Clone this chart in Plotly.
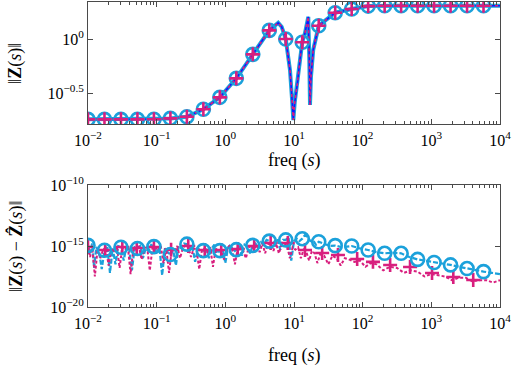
import plotly.graph_objects as go

# ---------------- data (log10 exponents) ----------------
# top panel: ||Z(s)|| line
top_line_fexp = [-2.0, -1.5, -1.0, -0.8, -0.56, -0.32, -0.08, 0.16, 0.40, 0.64, 0.77, 0.82,
                 0.88, 0.942, 0.975, 0.99, 1.01, 1.05, 1.087, 1.12, 1.16, 1.208, 1.223,
                 1.233, 1.247, 1.28, 1.36, 1.6, 1.84, 2.08, 2.5, 4.0]
top_line_zexp = [-0.744, -0.744, -0.743, -0.735, -0.72, -0.65, -0.54, -0.364, -0.142, 0.08,
                 0.15, 0.114, 0.0, -0.29, -0.59, -0.75, -0.59, -0.41, -0.19, -0.03, 0.055,
                 0.206, -0.19, -0.61, -0.35, -0.10, 0.123, 0.244, 0.278, 0.305, 0.308, 0.308]

# marker sample frequencies (shared)
mark_fexp = [-2.00, -1.76, -1.52, -1.28, -1.04, -0.80, -0.56, -0.32, -0.08, 0.16, 0.40,
             0.64, 0.88, 1.12, 1.36, 1.60, 1.84, 2.08, 2.32, 2.56, 2.80, 3.04, 3.28, 3.52, 3.76]
top_mark_zexp = [-0.744, -0.744, -0.744, -0.744, -0.743, -0.735, -0.72, -0.65, -0.54, -0.364,
                 -0.142, 0.08, 0.0, -0.03, 0.123, 0.244, 0.278, 0.305, 0.308, 0.308, 0.308,
                 0.308, 0.308, 0.308, 0.308]

# bottom panel: error, cyan series
err_c_fexp = [-2.00, -1.97, -1.94, -1.91, -1.88, -1.84, -1.80, -1.76, -1.72, -1.68, -1.64,
              -1.60, -1.56, -1.52, -1.48, -1.44, -1.40, -1.36, -1.32, -1.28, -1.24, -1.20,
              -1.16, -1.12, -1.08, -1.04, -1.00, -0.96, -0.92, -0.88, -0.84, -0.80, -0.76,
              -0.72, -0.68, -0.64, -0.60, -0.56, -0.52, -0.48, -0.44, -0.40, -0.36, -0.32,
              -0.28, -0.24, -0.20, -0.16, -0.12, -0.08, -0.04, 0.00, 0.04, 0.08, 0.12, 0.16,
              0.20, 0.24, 0.28, 0.32, 0.36, 0.40, 0.44, 0.48, 0.52, 0.56, 0.60, 0.64, 0.68,
              0.72, 0.76, 0.80, 0.84, 0.88, 0.92, 0.96, 1.00, 1.04, 1.08, 1.12, 1.16, 1.20,
              1.24, 1.28, 1.32, 1.36, 1.44, 1.52, 1.60, 1.70, 1.84, 1.96, 2.08, 2.20, 2.32,
              2.44, 2.56, 2.68, 2.80, 2.92, 3.04, 3.16, 3.28, 3.40, 3.52, 3.64, 3.76, 3.88, 4.00]
err_c_eexp = [-14.95, -15.6, -14.8, -16.8, -15.1, -15.4, -16.9, -15.35, -15.0, -17.2, -15.2,
              -16.5, -15.0, -15.1, -16.2, -15.0, -15.3, -17.0, -15.1, -15.2, -15.0, -16.0,
              -15.2, -15.4, -14.9, -15.05, -15.6, -15.1, -17.4, -15.2, -15.5, -15.7, -15.3,
              -16.6, -15.0, -15.2, -14.8, -14.85, -15.3, -15.0, -16.3, -15.2, -15.4, -15.38,
              -15.1, -16.0, -15.2, -14.9, -15.6, -15.38, -15.2, -16.4, -15.1, -14.9, -15.5, -15.3,
              -15.0, -15.8, -14.9, -15.1, -15.6, -14.95, -14.8, -15.2, -14.7, -14.9, -14.5, -14.6,
              -15.0, -14.6, -14.4, -15.3, -14.5, -14.5, -14.3, -16.2, -14.6, -14.4, -14.6, -14.4,
              -14.1, -14.3, -14.6, -14.55, -14.9, -14.65, -14.8, -15.0, -14.97, -15.1, -15.0,
              -15.2, -15.33, -15.5, -15.6, -15.55, -15.6, -15.9, -16.1, -16.2, -16.35, -16.4,
              -16.55, -16.7, -16.85, -16.95, -17.1, -17.2, -17.3]
err_c_mark_eexp = [-14.95, -15.35, -15.1, -15.2, -15.05, -15.7, -14.85, -15.38, -15.38, -15.3,
                   -14.95, -14.6, -14.5, -14.4, -14.65, -14.97, -15.0, -15.33, -15.6, -15.6,
                   -16.1, -16.35, -16.55, -16.85, -17.1]

# bottom panel: error, magenta series
err_m_fexp = [-2.00, -1.97, -1.94, -1.90, -1.86, -1.82, -1.78, -1.74, -1.70, -1.66, -1.62,
              -1.58, -1.54, -1.50, -1.46, -1.42, -1.38, -1.34, -1.30, -1.26, -1.22, -1.18,
              -1.14, -1.10, -1.06, -1.02, -0.98, -0.94, -0.90, -0.86, -0.82, -0.78, -0.74,
              -0.70, -0.66, -0.62, -0.58, -0.54, -0.50, -0.46, -0.42, -0.38, -0.34, -0.30,
              -0.26, -0.22, -0.18, -0.14, -0.10, -0.06, -0.02, 0.02, 0.06, 0.10, 0.14, 0.18,
              0.22, 0.26, 0.30, 0.34, 0.38, 0.42, 0.46, 0.50, 0.54, 0.58, 0.62, 0.66, 0.70,
              0.74, 0.78, 0.82, 0.86, 0.90, 0.94, 0.98, 1.02, 1.06, 1.10, 1.14, 1.18, 1.22,
              1.26, 1.30, 1.34, 1.38, 1.44, 1.50, 1.56, 1.62, 1.68, 1.74, 1.80, 1.88, 1.96,
              2.04, 2.12, 2.20, 2.30, 2.40, 2.50, 2.60, 2.70, 2.80, 2.90, 3.00, 3.10, 3.20,
              3.30, 3.40, 3.50, 3.60, 3.70, 3.80, 3.90, 4.00]
err_m_eexp = [-15.08, -15.9, -15.0, -17.5, -15.2, -16.0, -15.3, -15.1, -16.6, -15.2, -15.4,
              -15.0, -16.8, -15.1, -15.3, -15.0, -17.3, -15.2, -15.3, -15.0, -16.1, -15.2,
              -15.0, -17.0, -15.1, -15.1, -15.4, -15.0, -16.4, -15.2, -17.2, -15.3, -15.5,
              -15.0, -16.0, -15.2, -14.9, -15.1, -15.9, -15.2, -15.3, -16.9, -15.3, -15.2,
              -15.5, -15.1, -16.7, -15.2, -15.4, -15.3, -16.1, -15.2, -15.0, -15.3, -16.5, -15.2,
              -15.0, -15.4, -16.0, -15.1, -15.0, -15.3, -14.9, -15.5, -14.8, -15.6, -14.8, -14.9,
              -15.4, -14.8, -15.6, -14.9, -14.8, -15.0, -16.0, -15.1, -15.3, -15.1, -16.0, -15.3,
              -15.5, -16.2, -15.4, -15.6, -16.4, -15.7, -15.8, -16.5, -15.8, -16.0, -16.6,
              -16.0, -16.1, -16.3, -16.2, -16.7, -16.4, -16.5, -17.0, -16.7, -16.8, -17.2,
              -17.0, -17.1, -17.5, -17.3, -17.4, -17.5, -17.8, -17.6, -17.6, -17.9, -17.8,
              -17.8, -18.0, -17.8]
err_m_mark_fexp = [-2.00, -1.75, -1.50, -1.29, -1.04, -0.79, -0.54, -0.30, -0.06, 0.18, 0.42,
                   0.66, 0.91, 1.16, 1.41, 1.64, 1.92, 2.15, 2.40, 2.69, 3.01, 3.32, 3.61]
err_m_mark_eexp = [-15.08, -15.33, -15.08, -15.16, -15.08, -15.3, -15.0, -15.33, -15.33, -15.25,
                   -15.0, -14.75, -14.75, -15.33, -15.57, -15.74, -16.07, -16.3, -16.56,
                   -16.72, -17.21, -17.54, -17.79]

x_tick_exp = [-2, -1, 0, 1, 2, 3, 4]

# ---------------- styling ----------------
CYAN = "#1ba1db"
MAGENTA = "#d81f7e"
BLUE = "#1414ff"
AX = "#4a4a4a"
FONT = "Liberation Serif"

def p10(vals):
    return [10 ** v for v in vals]

fig = go.Figure()

# top panel
fig.add_trace(go.Scatter(x=p10(top_line_fexp), y=p10(top_line_zexp), mode="lines",
                         line=dict(color=CYAN, width=4), xaxis="x", yaxis="y"))
fig.add_trace(go.Scatter(x=p10(top_line_fexp), y=p10(top_line_zexp), mode="lines",
                         line=dict(color=BLUE, width=1.6), xaxis="x", yaxis="y"))
fig.add_trace(go.Scatter(x=p10(top_line_fexp), y=p10(top_line_zexp), mode="lines",
                         line=dict(color=MAGENTA, width=1.6, dash="3px,3px"), xaxis="x", yaxis="y"))
fig.add_trace(go.Scatter(x=p10(mark_fexp), y=p10(top_mark_zexp), mode="markers",
                         marker=dict(symbol="circle-open", size=13, color=CYAN,
                                     line=dict(width=2.6, color=CYAN)), xaxis="x", yaxis="y"))
fig.add_trace(go.Scatter(x=p10(mark_fexp), y=p10(top_mark_zexp), mode="markers",
                         marker=dict(symbol="cross-thin-open", size=10, color=MAGENTA,
                                     line=dict(width=2.6, color=MAGENTA)), xaxis="x", yaxis="y"))

# bottom panel
fig.add_trace(go.Scatter(x=p10(err_c_fexp), y=p10(err_c_eexp), mode="lines",
                         line=dict(color=CYAN, width=2.2, dash="5px,2px"), xaxis="x2", yaxis="y2"))
fig.add_trace(go.Scatter(x=p10(err_m_fexp), y=p10(err_m_eexp), mode="lines",
                         line=dict(color=MAGENTA, width=2, dash="3px,2px"), xaxis="x2", yaxis="y2"))
fig.add_trace(go.Scatter(x=p10(err_m_mark_fexp), y=p10(err_m_mark_eexp), mode="markers",
                         marker=dict(symbol="cross-thin-open", size=10, color=MAGENTA,
                                     line=dict(width=2.6, color=MAGENTA)), xaxis="x2", yaxis="y2"))
fig.add_trace(go.Scatter(x=p10(mark_fexp), y=p10(err_c_mark_eexp), mode="markers",
                         marker=dict(symbol="circle-open", size=13, color=CYAN,
                                     line=dict(width=2.6, color=CYAN)), xaxis="x2", yaxis="y2"))

minor_vals = [m * 10 ** e for e in x_tick_exp[:-1] for m in range(2, 10)]

def xaxis(domain_anchor):
    return dict(type="log", range=[-2, 4], anchor=domain_anchor,
                tickmode="array", tickvals=p10(x_tick_exp),
                ticktext=["10<sup>%s</sup>" % (str(e).replace("-", "\u2212")) for e in x_tick_exp],
                ticks="inside", ticklen=5, tickcolor=AX, tickwidth=1,
                minor=dict(tickmode="array", tickvals=minor_vals, ticks="inside",
                           ticklen=3, tickcolor=AX, tickwidth=1, showgrid=False),
                showline=True, linecolor=AX, linewidth=1, mirror="allticks",
                showgrid=False, zeroline=False, ticklabelstandoff=2,
                tickfont=dict(family=FONT, size=16, color="black"))

fig.update_layout(
    width=519, height=369, paper_bgcolor="white", plot_bgcolor="white",
    margin=dict(l=88, r=19, t=2, b=62, autoexpand=False), showlegend=False,
    font=dict(family=FONT, color="black"),
    xaxis=dict(**xaxis("y"), domain=[0, 1]),
    xaxis2=dict(**xaxis("y2"), domain=[0, 1]),
    yaxis=dict(type="log", domain=[0.6, 1.0], anchor="x", range=[-0.787, 0.343],
               tickmode="array", tickvals=[10 ** -0.5, 1.0],
               ticktext=["10<sup>\u22120.5</sup>", "10<sup>0</sup>"],
               ticks="inside", ticklen=5, tickcolor=AX, showline=True, linecolor=AX,
               linewidth=1, mirror="allticks", showgrid=False, zeroline=False,
               tickfont=dict(family=FONT, size=16, color="black")),
    yaxis2=dict(type="log", domain=[0.0, 0.4], anchor="x2", range=[-20, -10],
                tickmode="array", tickvals=[1e-20, 1e-15, 1e-10],
                ticktext=["10<sup>\u221220</sup>", "10<sup>\u221215</sup>", "10<sup>\u221210</sup>"],
                ticks="inside", ticklen=5, tickcolor=AX, showline=True, linecolor=AX,
                linewidth=1, mirror="allticks", showgrid=False, zeroline=False,
                tickfont=dict(family=FONT, size=16, color="black")),
)

title_font = dict(family=FONT, size=18, color="black")
ann = [
    dict(text="\u2016<b>Z</b>(<i>s</i>)\u2016", x=-0.175, y=0.8, textangle=-90),
    dict(text="\u2016<b>Z</b>(<i>s</i>) \u2212 <b>Z\u0302</b>(<i>s</i>)\u2016", x=-0.175, y=0.2, textangle=-90),
    dict(text="freq (<i>s</i>)", x=0.5, y=0.48, textangle=0),
    dict(text="freq (<i>s</i>)", x=0.5, y=-0.16, textangle=0),
]
for a in ann:
    fig.add_annotation(xref="paper", yref="paper", showarrow=False, xanchor="center",
                       yanchor="middle", font=title_font, **a)

fig.write_html("out.html")
